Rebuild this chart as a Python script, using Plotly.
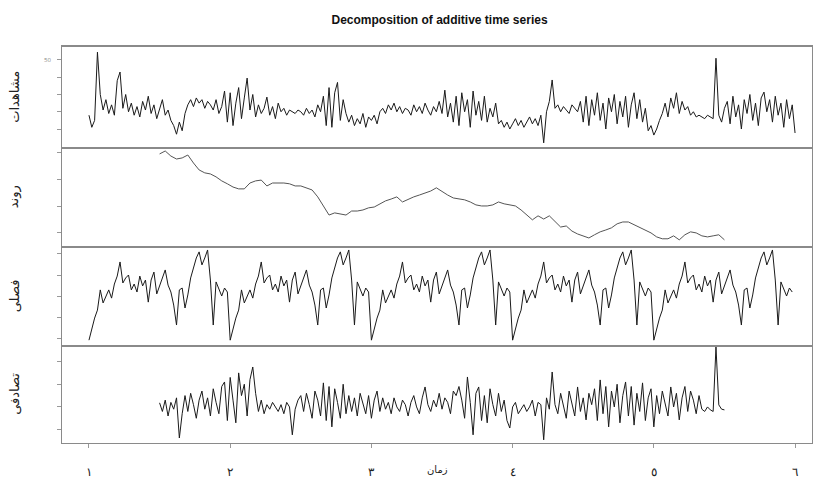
import numpy as np
import plotly.graph_objects as go
from plotly.subplots import make_subplots

# ---------------- data ----------------
FREQ = 50                 # observations per time unit
obs_start = 1.0
trend_start = 1.5
trend_step = 0.04
random_start = 1.5

observed = [
    18, 11, 15, 54.5, 30, 21, 27, 19, 24, 18,
    38, 43, 22, 30, 20, 25, 18, 23, 17, 26,
    21, 29, 19, 24, 16, 22, 27, 18, 21, 15,
    12, 7, 14, 9, 19, 24, 27, 23, 28, 25,
    27, 22, 26, 24, 21, 27, 19, 23, 32, 14,
    31, 12, 25, 34, 16, 28, 39.5, 21, 30, 17,
    24, 19, 22, 28.5, 18, 23, 16, 25, 20, 22,
    18, 21, 20, 19, 21, 20, 18, 22, 19, 21,
    17, 24, 20, 29, 12, 34, 11, 31, 37, 15,
    27, 19, 14, 18, 12, 16, 13, 19, 11, 17,
    15, 18, 13, 20, 22, 19, 24, 21, 25, 20,
    23, 19, 22, 21, 18, 24, 20, 23, 19, 25,
    21, 18, 23, 20, 26, 19, 32.5, 17, 25, 14,
    29, 12, 31, 20, 27, 11, 32, 18, 26, 15,
    29, 14, 22, 17, 25, 13, 15, 11, 14, 10,
    13, 16, 12, 15, 11, 14, 17, 13, 16, 12,
    18, 2, 20, 26, 38.4, 22, 24, 20, 23, 21,
    19, 24, 22, 20, 26, 14, 29, 12, 27, 18,
    31, 15, 25, 10, 28, 20, 30, 13, 26, 17,
    29, 11, 24, 31, 16, 27, 14, 22, 9, 12,
    6.5, 10, 15, 19, 25, 17, 28, 22, 31, 19,
    26, 21, 23, 18, 20, 17, 18, 17, 16, 18,
    17, 16, 51, 18, 14, 22, 26, 13, 29, 17,
    24, 10, 27, 19, 30, 15, 25, 12, 28, 31.4,
    20, 27, 14, 29, 18, 25, 11, 27, 16, 24,
    7.7,
]

trend = [
    39.6, 40.7, 38.8, 37.7, 38.1, 39.2, 36.2, 33.6, 32.5, 32.1,
    31.0, 29.5, 28.4, 27.2, 26.5, 26.5, 28.7, 29.5, 29.8, 27.6,
    28.7, 28.7, 28.7, 28.4, 27.6, 27.6, 26.9, 26.1, 23.5, 20.1,
    16.7, 17.5, 17.1, 16.7, 18.2, 18.2, 18.6, 19.4, 19.7, 20.9,
    22.0, 22.7, 23.5, 21.6, 22.7, 23.5, 24.2, 25.0, 25.7, 26.9,
    25.4, 24.2, 23.1, 22.7, 22.4, 21.6, 20.5, 20.1, 20.1, 20.5,
    21.6, 20.9, 20.5, 20.1, 18.6, 16.7, 14.9, 16.4, 15.2, 16.4,
    14.1, 12.2, 12.6, 10.7, 9.6, 8.9, 8.1, 9.3, 10.4, 11.1,
    11.9, 13.4, 14.1, 14.1, 13.0, 11.9, 11.1, 10.0, 8.5, 7.8,
    7.8, 8.9, 7.4, 9.3, 10.4, 10.0, 8.9, 8.5, 8.9, 9.3,
    7.4,
]

seasonal_period = [
    -21.0, -15.2, -10.5, -6.7, 2.9, -3.3, 0.0, 2.9, -1.0, 5.7,
    9.5, 16.2, 6.2, 8.6, 10.0, 2.9, 5.7, 1.9, 9.5, 4.8,
    7.6, -2.9, 7.6, 11.4, 1.0, 4.8, 8.6, 12.4, 5.2, 1.9,
    -4.3, -13.8, 2.9, 3.8, -5.7, 0.5, 8.6, 13.3, 18.1, 21.0,
    14.8, 18.1, 21.9, 7.6, -13.8, 6.7, 2.9, 0.0, 3.8, 1.9,
]
n_seasonal_periods = 5

random_comp = [
    1.8, -2, 3, -4, 2, -1, 4, -13.7, -3, 5,
    -2, 6, 1, -5, 3, 7, -1, 4, -4, 8,
    2, -3, 9, 11, -6, 13, 3, -7, 15, 5,
    10, -4, 12, 17.6, 6, -2, 3, -3, 1, -1,
    2, 0, -2, 1, -3, 2, 0, -12.3, -1, 3,
    5, -2, 6, 1, -5, 7, 3, -4, 10.6, -6,
    9, -8.8, 8, 2, -5, 10, -3, 5, -2, 4,
    -4, 6, 1, -3, 5, -5, 3, 7, -2, 4,
    -1, 2, -3, 4, 0, -2, 3, 1, -4, 2,
    5, 0, -3, 4, 8.8, 1, -2, 3, 0, 6,
    -1, 4, 2, -3, 7, 5, 9, 3, -5, 13.2,
    2, -12.3, 6, 8.8, -6, 5, -7, 8, 1, -4,
    6, -2, 3, -6, -9.3, 0, 2, -3, -1, 1,
    -2, 0, 3, -4, 2, 1, -14.5, 4, -1, 15.4,
    1, -3, 6, 0, -5, 7, 2, -4, 8.8, -2,
    4, -5.7, 6, 1, 8, -6, 11.9, -3, 9, -8.8,
    7, 0, 10, -7, 5, 11, -4, 9, -8, 6,
    -2, 10.6, -6, 4, 8, -8.8, 5, -3, 7, 2,
    -4, 8.8, 0, 6, -5.7, 4, 9, -2, 7, 3,
    -3, 5, -1, -2, 0, -1.3, -2, 26.4, 0.9, -1,
    -1.3,
]

panel_titles = ["مشاهدات", "روند", "فصلی", "تصادفی"]
x_tick_vals = [1, 2, 3, 4, 5, 6]
x_tick_text = ["١", "٢", "٣", "٤", "٥", "٦"]
x_title = "زمان"
main_title = "Decomposition of additive time series"

# ---------------- derived time bases ----------------
t_obs = obs_start + np.arange(len(observed)) / FREQ
seasonal = np.tile(seasonal_period, n_seasonal_periods)
t_seas = obs_start + np.arange(len(seasonal)) / FREQ
t_trend = trend_start + np.arange(len(trend)) * trend_step
t_rand = random_start + np.arange(len(random_comp)) / FREQ

# ---------------- figure ----------------
fig = make_subplots(rows=4, cols=1, vertical_spacing=0)

line_col = "#1a1a1a"
fig.add_trace(go.Scatter(x=t_obs, y=observed, mode="lines",
                         line=dict(color=line_col, width=1)), row=1, col=1)
fig.add_trace(go.Scatter(x=t_trend, y=trend, mode="lines",
                         line=dict(color="#555555", width=1)), row=2, col=1)
fig.add_trace(go.Scatter(x=t_seas, y=seasonal, mode="lines",
                         line=dict(color=line_col, width=1)), row=3, col=1)
fig.add_trace(go.Scatter(x=t_rand, y=random_comp, mode="lines",
                         line=dict(color=line_col, width=1)), row=4, col=1)

domains = [[0.7475, 1.0], [0.4975, 0.7475], [0.2475, 0.4975], [0.0, 0.2475]]
yranges = [[-0.4, 57.5], [5.1, 42.2], [-23.3, 23.8], [-15.9, 27.3]]
yticks = [[10, 20, 30, 40, 50], [10, 20, 30, 40], [-20, -10, 0, 10, 20], [-10, 0, 10, 20]]
xrange_ = [0.809, 6.12]
frame_col = "#8a8a8a"

for k in range(4):
    ya = "yaxis" if k == 0 else f"yaxis{k+1}"
    xa = "xaxis" if k == 0 else f"xaxis{k+1}"
    fig.layout[ya].update(domain=domains[k], range=yranges[k], tickvals=yticks[k],
                          showticklabels=False, ticks="outside", ticklen=4,
                          tickcolor="#999999", showline=True, mirror=True,
                          linecolor=frame_col, linewidth=1.2, showgrid=False,
                          zeroline=False)
    fig.layout[xa].update(range=xrange_, showline=True, mirror=(k == 0),
                          linecolor=frame_col, linewidth=1.8, showgrid=False,
                          zeroline=False, showticklabels=False, ticks="")

fig.layout.xaxis4.update(tickvals=x_tick_vals, ticktext=x_tick_text,
                         showticklabels=True, ticks="outside", ticklen=4,
                         linewidth=1.2, tickcolor="#999999", ticklabelstandoff=13,
                         tickfont=dict(family="DejaVu Serif, Liberation Serif, serif",
                                       size=12, color="#222"))

fig.add_annotation(text=x_title, xref="paper", yref="paper", x=0.5, y=-0.068,
                   xanchor="center", yanchor="middle", showarrow=False,
                   font=dict(family="DejaVu Sans, sans-serif", size=10, color="#222"))

for k, txt in enumerate(panel_titles):
    fig.add_annotation(text=txt, xref="paper", yref="paper",
                       x=-0.063, y=(domains[k][0] + domains[k][1]) / 2,
                       xanchor="center", yanchor="middle", textangle=-90,
                       showarrow=False,
                       font=dict(family="DejaVu Sans, sans-serif", size=13, color="#222"))

fig.add_annotation(text="50", xref="paper", yref="y", x=-0.012, y=50,
                   xanchor="right", yanchor="middle", showarrow=False,
                   font=dict(size=6, color="#888"))

fig.update_layout(
    width=814, height=480,
    margin=dict(l=62, r=2, t=47, b=37),
    paper_bgcolor="white", plot_bgcolor="white",
    showlegend=False,
    title=dict(text="<b>" + main_title + "</b>", x=0.54, xanchor="center",
               y=0.958, yanchor="middle",
               font=dict(family="Liberation Sans, Arial, sans-serif", size=12, color="#111")),
)

fig.write_html("out.html", config={"displayModeBar": False},
               post_script="document.body.style.margin='0px';document.body.style.overflow='hidden';")
